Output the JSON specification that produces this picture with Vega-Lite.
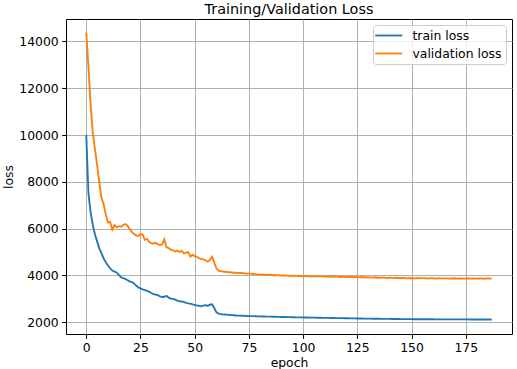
{
  "$schema": "https://vega.github.io/schema/vega-lite/v6.json",
  "width": 446,
  "height": 315,
  "autosize": "none",
  "padding": {"left": 66, "top": 19, "right": 5, "bottom": 35},
  "background": "white",
  "title": {"text": "Training/Validation Loss", "fontSize": 14.4, "fontWeight": "normal", "font": "DejaVu Sans", "color": "black", "offset": 2, "anchor": "middle"},
  "data": {"values": [
    {"epoch": 0, "train loss": 10000, "validation loss": 14380},
    {"epoch": 1, "train loss": 7500, "validation loss": 12900},
    {"epoch": 2, "train loss": 6700, "validation loss": 11300},
    {"epoch": 3, "train loss": 6150, "validation loss": 10100},
    {"epoch": 4, "train loss": 5750, "validation loss": 9400},
    {"epoch": 5, "train loss": 5450, "validation loss": 8700},
    {"epoch": 6, "train loss": 5150, "validation loss": 8000},
    {"epoch": 7, "train loss": 4950, "validation loss": 7300},
    {"epoch": 8, "train loss": 4720, "validation loss": 7050},
    {"epoch": 9, "train loss": 4560, "validation loss": 6600},
    {"epoch": 10, "train loss": 4420, "validation loss": 6250},
    {"epoch": 11, "train loss": 4300, "validation loss": 6280},
    {"epoch": 12, "train loss": 4200, "validation loss": 5950},
    {"epoch": 13, "train loss": 4160, "validation loss": 6150},
    {"epoch": 14, "train loss": 4120, "validation loss": 6050},
    {"epoch": 15, "train loss": 4020, "validation loss": 6100},
    {"epoch": 16, "train loss": 3920, "validation loss": 6080},
    {"epoch": 17, "train loss": 3880, "validation loss": 6150},
    {"epoch": 18, "train loss": 3850, "validation loss": 6190},
    {"epoch": 19, "train loss": 3790, "validation loss": 6120},
    {"epoch": 20, "train loss": 3740, "validation loss": 5980},
    {"epoch": 21, "train loss": 3710, "validation loss": 5860},
    {"epoch": 22, "train loss": 3650, "validation loss": 5760},
    {"epoch": 23, "train loss": 3560, "validation loss": 5710},
    {"epoch": 24, "train loss": 3480, "validation loss": 5680},
    {"epoch": 25, "train loss": 3440, "validation loss": 5760},
    {"epoch": 26, "train loss": 3400, "validation loss": 5740},
    {"epoch": 27, "train loss": 3370, "validation loss": 5520},
    {"epoch": 28, "train loss": 3330, "validation loss": 5560},
    {"epoch": 29, "train loss": 3300, "validation loss": 5430},
    {"epoch": 30, "train loss": 3240, "validation loss": 5370},
    {"epoch": 31, "train loss": 3190, "validation loss": 5360},
    {"epoch": 32, "train loss": 3170, "validation loss": 5390},
    {"epoch": 33, "train loss": 3150, "validation loss": 5330},
    {"epoch": 34, "train loss": 3100, "validation loss": 5290},
    {"epoch": 35, "train loss": 3070, "validation loss": 5320},
    {"epoch": 36, "train loss": 3080, "validation loss": 5540},
    {"epoch": 37, "train loss": 3120, "validation loss": 5200},
    {"epoch": 38, "train loss": 3040, "validation loss": 5160},
    {"epoch": 39, "train loss": 3000, "validation loss": 5100},
    {"epoch": 40, "train loss": 2990, "validation loss": 5070},
    {"epoch": 41, "train loss": 2960, "validation loss": 5010},
    {"epoch": 42, "train loss": 2920, "validation loss": 5060},
    {"epoch": 43, "train loss": 2890, "validation loss": 4990},
    {"epoch": 44, "train loss": 2880, "validation loss": 5050},
    {"epoch": 45, "train loss": 2860, "validation loss": 4940},
    {"epoch": 46, "train loss": 2820, "validation loss": 4970},
    {"epoch": 47, "train loss": 2800, "validation loss": 4990},
    {"epoch": 48, "train loss": 2790, "validation loss": 4800},
    {"epoch": 49, "train loss": 2760, "validation loss": 4880},
    {"epoch": 50, "train loss": 2720, "validation loss": 4820},
    {"epoch": 51, "train loss": 2710, "validation loss": 4790},
    {"epoch": 52, "train loss": 2690, "validation loss": 4720},
    {"epoch": 53, "train loss": 2670, "validation loss": 4700},
    {"epoch": 54, "train loss": 2700, "validation loss": 4680},
    {"epoch": 55, "train loss": 2720, "validation loss": 4640},
    {"epoch": 56, "train loss": 2690, "validation loss": 4580},
    {"epoch": 57, "train loss": 2740, "validation loss": 4650},
    {"epoch": 58, "train loss": 2760, "validation loss": 4790},
    {"epoch": 59, "train loss": 2600, "validation loss": 4550},
    {"epoch": 60, "train loss": 2420, "validation loss": 4300},
    {"epoch": 61, "train loss": 2360, "validation loss": 4200},
    {"epoch": 62, "train loss": 2340, "validation loss": 4180},
    {"epoch": 63, "train loss": 2330, "validation loss": 4160},
    {"epoch": 64, "train loss": 2320, "validation loss": 4150},
    {"epoch": 65, "train loss": 2315, "validation loss": 4140},
    {"epoch": 66, "train loss": 2300, "validation loss": 4130},
    {"epoch": 67, "train loss": 2295, "validation loss": 4120},
    {"epoch": 68, "train loss": 2290, "validation loss": 4110},
    {"epoch": 69, "train loss": 2280, "validation loss": 4115},
    {"epoch": 70, "train loss": 2275, "validation loss": 4100},
    {"epoch": 71, "train loss": 2272, "validation loss": 4095},
    {"epoch": 72, "train loss": 2268, "validation loss": 4090},
    {"epoch": 73, "train loss": 2262, "validation loss": 4085},
    {"epoch": 74, "train loss": 2260, "validation loss": 4070},
    {"epoch": 75, "train loss": 2255, "validation loss": 4075},
    {"epoch": 76, "train loss": 2252, "validation loss": 4060},
    {"epoch": 77, "train loss": 2250, "validation loss": 4065},
    {"epoch": 78, "train loss": 2247, "validation loss": 4050},
    {"epoch": 79, "train loss": 2244, "validation loss": 4040},
    {"epoch": 80, "train loss": 2240, "validation loss": 4030},
    {"epoch": 81, "train loss": 2238, "validation loss": 4035},
    {"epoch": 82, "train loss": 2236, "validation loss": 4020},
    {"epoch": 83, "train loss": 2233, "validation loss": 4030},
    {"epoch": 84, "train loss": 2231, "validation loss": 4010},
    {"epoch": 85, "train loss": 2229, "validation loss": 4025},
    {"epoch": 86, "train loss": 2226, "validation loss": 4000},
    {"epoch": 87, "train loss": 2224, "validation loss": 4010},
    {"epoch": 88, "train loss": 2222, "validation loss": 3995},
    {"epoch": 89, "train loss": 2220, "validation loss": 4005},
    {"epoch": 90, "train loss": 2217, "validation loss": 3985},
    {"epoch": 91, "train loss": 2215, "validation loss": 3990},
    {"epoch": 92, "train loss": 2213, "validation loss": 3995},
    {"epoch": 93, "train loss": 2210, "validation loss": 3975},
    {"epoch": 94, "train loss": 2208, "validation loss": 3985},
    {"epoch": 95, "train loss": 2206, "validation loss": 3980},
    {"epoch": 96, "train loss": 2204, "validation loss": 3970},
    {"epoch": 97, "train loss": 2201, "validation loss": 3985},
    {"epoch": 98, "train loss": 2199, "validation loss": 3965},
    {"epoch": 99, "train loss": 2197, "validation loss": 3975},
    {"epoch": 100, "train loss": 2195, "validation loss": 3960},
    {"epoch": 101, "train loss": 2193, "validation loss": 3975},
    {"epoch": 102, "train loss": 2192, "validation loss": 3955},
    {"epoch": 103, "train loss": 2190, "validation loss": 3965},
    {"epoch": 104, "train loss": 2188, "validation loss": 3950},
    {"epoch": 105, "train loss": 2186, "validation loss": 3970},
    {"epoch": 106, "train loss": 2184, "validation loss": 3945},
    {"epoch": 107, "train loss": 2183, "validation loss": 3955},
    {"epoch": 108, "train loss": 2181, "validation loss": 3960},
    {"epoch": 109, "train loss": 2180, "validation loss": 3940},
    {"epoch": 110, "train loss": 2178, "validation loss": 3950},
    {"epoch": 111, "train loss": 2176, "validation loss": 3945},
    {"epoch": 112, "train loss": 2175, "validation loss": 3935},
    {"epoch": 113, "train loss": 2173, "validation loss": 3955},
    {"epoch": 114, "train loss": 2171, "validation loss": 3930},
    {"epoch": 115, "train loss": 2170, "validation loss": 3940},
    {"epoch": 116, "train loss": 2168, "validation loss": 3945},
    {"epoch": 117, "train loss": 2166, "validation loss": 3925},
    {"epoch": 118, "train loss": 2165, "validation loss": 3935},
    {"epoch": 119, "train loss": 2163, "validation loss": 3930},
    {"epoch": 120, "train loss": 2161, "validation loss": 3920},
    {"epoch": 121, "train loss": 2160, "validation loss": 3935},
    {"epoch": 122, "train loss": 2158, "validation loss": 3925},
    {"epoch": 123, "train loss": 2156, "validation loss": 3915},
    {"epoch": 124, "train loss": 2154, "validation loss": 3930},
    {"epoch": 125, "train loss": 2152, "validation loss": 3920},
    {"epoch": 126, "train loss": 2150, "validation loss": 3910},
    {"epoch": 127, "train loss": 2149, "validation loss": 3925},
    {"epoch": 128, "train loss": 2147, "validation loss": 3915},
    {"epoch": 129, "train loss": 2146, "validation loss": 3905},
    {"epoch": 130, "train loss": 2145, "validation loss": 3920},
    {"epoch": 131, "train loss": 2143, "validation loss": 3910},
    {"epoch": 132, "train loss": 2142, "validation loss": 3900},
    {"epoch": 133, "train loss": 2141, "validation loss": 3915},
    {"epoch": 134, "train loss": 2140, "validation loss": 3895},
    {"epoch": 135, "train loss": 2138, "validation loss": 3905},
    {"epoch": 136, "train loss": 2137, "validation loss": 3890},
    {"epoch": 137, "train loss": 2136, "validation loss": 3910},
    {"epoch": 138, "train loss": 2135, "validation loss": 3895},
    {"epoch": 139, "train loss": 2133, "validation loss": 3885},
    {"epoch": 140, "train loss": 2132, "validation loss": 3900},
    {"epoch": 141, "train loss": 2131, "validation loss": 3890},
    {"epoch": 142, "train loss": 2130, "validation loss": 3880},
    {"epoch": 143, "train loss": 2129, "validation loss": 3895},
    {"epoch": 144, "train loss": 2128, "validation loss": 3885},
    {"epoch": 145, "train loss": 2127, "validation loss": 3875},
    {"epoch": 146, "train loss": 2126, "validation loss": 3890},
    {"epoch": 147, "train loss": 2125, "validation loss": 3880},
    {"epoch": 148, "train loss": 2124, "validation loss": 3870},
    {"epoch": 149, "train loss": 2123, "validation loss": 3885},
    {"epoch": 150, "train loss": 2122, "validation loss": 3875},
    {"epoch": 151, "train loss": 2121, "validation loss": 3880},
    {"epoch": 152, "train loss": 2121, "validation loss": 3870},
    {"epoch": 153, "train loss": 2120, "validation loss": 3885},
    {"epoch": 154, "train loss": 2120, "validation loss": 3865},
    {"epoch": 155, "train loss": 2119, "validation loss": 3875},
    {"epoch": 156, "train loss": 2119, "validation loss": 3880},
    {"epoch": 157, "train loss": 2118, "validation loss": 3860},
    {"epoch": 158, "train loss": 2118, "validation loss": 3870},
    {"epoch": 159, "train loss": 2117, "validation loss": 3875},
    {"epoch": 160, "train loss": 2117, "validation loss": 3865},
    {"epoch": 161, "train loss": 2116, "validation loss": 3860},
    {"epoch": 162, "train loss": 2116, "validation loss": 3870},
    {"epoch": 163, "train loss": 2115, "validation loss": 3875},
    {"epoch": 164, "train loss": 2115, "validation loss": 3860},
    {"epoch": 165, "train loss": 2115, "validation loss": 3865},
    {"epoch": 166, "train loss": 2114, "validation loss": 3870},
    {"epoch": 167, "train loss": 2114, "validation loss": 3855},
    {"epoch": 168, "train loss": 2113, "validation loss": 3865},
    {"epoch": 169, "train loss": 2113, "validation loss": 3860},
    {"epoch": 170, "train loss": 2113, "validation loss": 3870},
    {"epoch": 171, "train loss": 2112, "validation loss": 3855},
    {"epoch": 172, "train loss": 2112, "validation loss": 3860},
    {"epoch": 173, "train loss": 2112, "validation loss": 3865},
    {"epoch": 174, "train loss": 2111, "validation loss": 3855},
    {"epoch": 175, "train loss": 2111, "validation loss": 3860},
    {"epoch": 176, "train loss": 2111, "validation loss": 3870},
    {"epoch": 177, "train loss": 2110, "validation loss": 3855},
    {"epoch": 178, "train loss": 2110, "validation loss": 3860},
    {"epoch": 179, "train loss": 2110, "validation loss": 3865},
    {"epoch": 180, "train loss": 2110, "validation loss": 3855},
    {"epoch": 181, "train loss": 2109, "validation loss": 3860},
    {"epoch": 182, "train loss": 2109, "validation loss": 3865},
    {"epoch": 183, "train loss": 2109, "validation loss": 3850},
    {"epoch": 184, "train loss": 2109, "validation loss": 3860},
    {"epoch": 185, "train loss": 2108, "validation loss": 3865},
    {"epoch": 186, "train loss": 2108, "validation loss": 3860},
    {"epoch": 187, "train loss": 2108, "validation loss": 3855}
  ]},
  "transform": [{"fold": ["train loss", "validation loss"], "as": ["series", "loss"]}],
  "mark": {"type": "line", "strokeWidth": 1.86, "interpolate": "linear"},
  "encoding": {
    "x": {"field": "epoch", "type": "quantitative",
      "scale": {"domain": [-9.35, 196.35], "nice": false, "zero": false},
      "axis": {"values": [0, 25, 50, 75, 100, 125, 150, 175], "title": "epoch", "titlePadding": 2}},
    "y": {"field": "loss", "type": "quantitative",
      "scale": {"domain": [1488, 14962], "nice": false, "zero": false},
      "axis": {"values": [2000, 4000, 6000, 8000, 10000, 12000, 14000], "title": "loss", "titlePadding": 3, "format": "d"}},
    "color": {"field": "series", "type": "nominal",
      "scale": {"domain": ["train loss", "validation loss"], "range": ["#1f77b4", "#ff7f0e"]},
      "legend": {"title": null, "orient": "top-right", "offset": 6, "padding": 4,
        "fillColor": "rgba(255,255,255,0.8)", "strokeColor": "#cccccc", "cornerRadius": 3,
        "symbolType": "M-2.5,0H2.5", "symbolSize": 117, "symbolStrokeWidth": 1.86, "symbolOffset": 5.2,
        "labelFontSize": 12.4, "labelColor": "black", "labelOffset": 17.3, "rowPadding": 5, "labelFont": "DejaVu Sans"}}
  },
  "config": {
    "font": "DejaVu Sans",
    "view": {"stroke": "black", "strokeWidth": 1},
    "axis": {"domain": false, "labelFontSize": 12.4, "labelColor": "black", "labelFont": "DejaVu Sans",
      "tickColor": "black", "tickSize": 4.3, "tickWidth": 1, "labelPadding": 3.5,
      "titleFontSize": 12.4, "titleFontWeight": "normal", "titleColor": "black", "titleFont": "DejaVu Sans",
      "gridColor": "#b0b0b0", "gridWidth": 1, "labelFlush": false, "labelOverlap": false}
  }
}
